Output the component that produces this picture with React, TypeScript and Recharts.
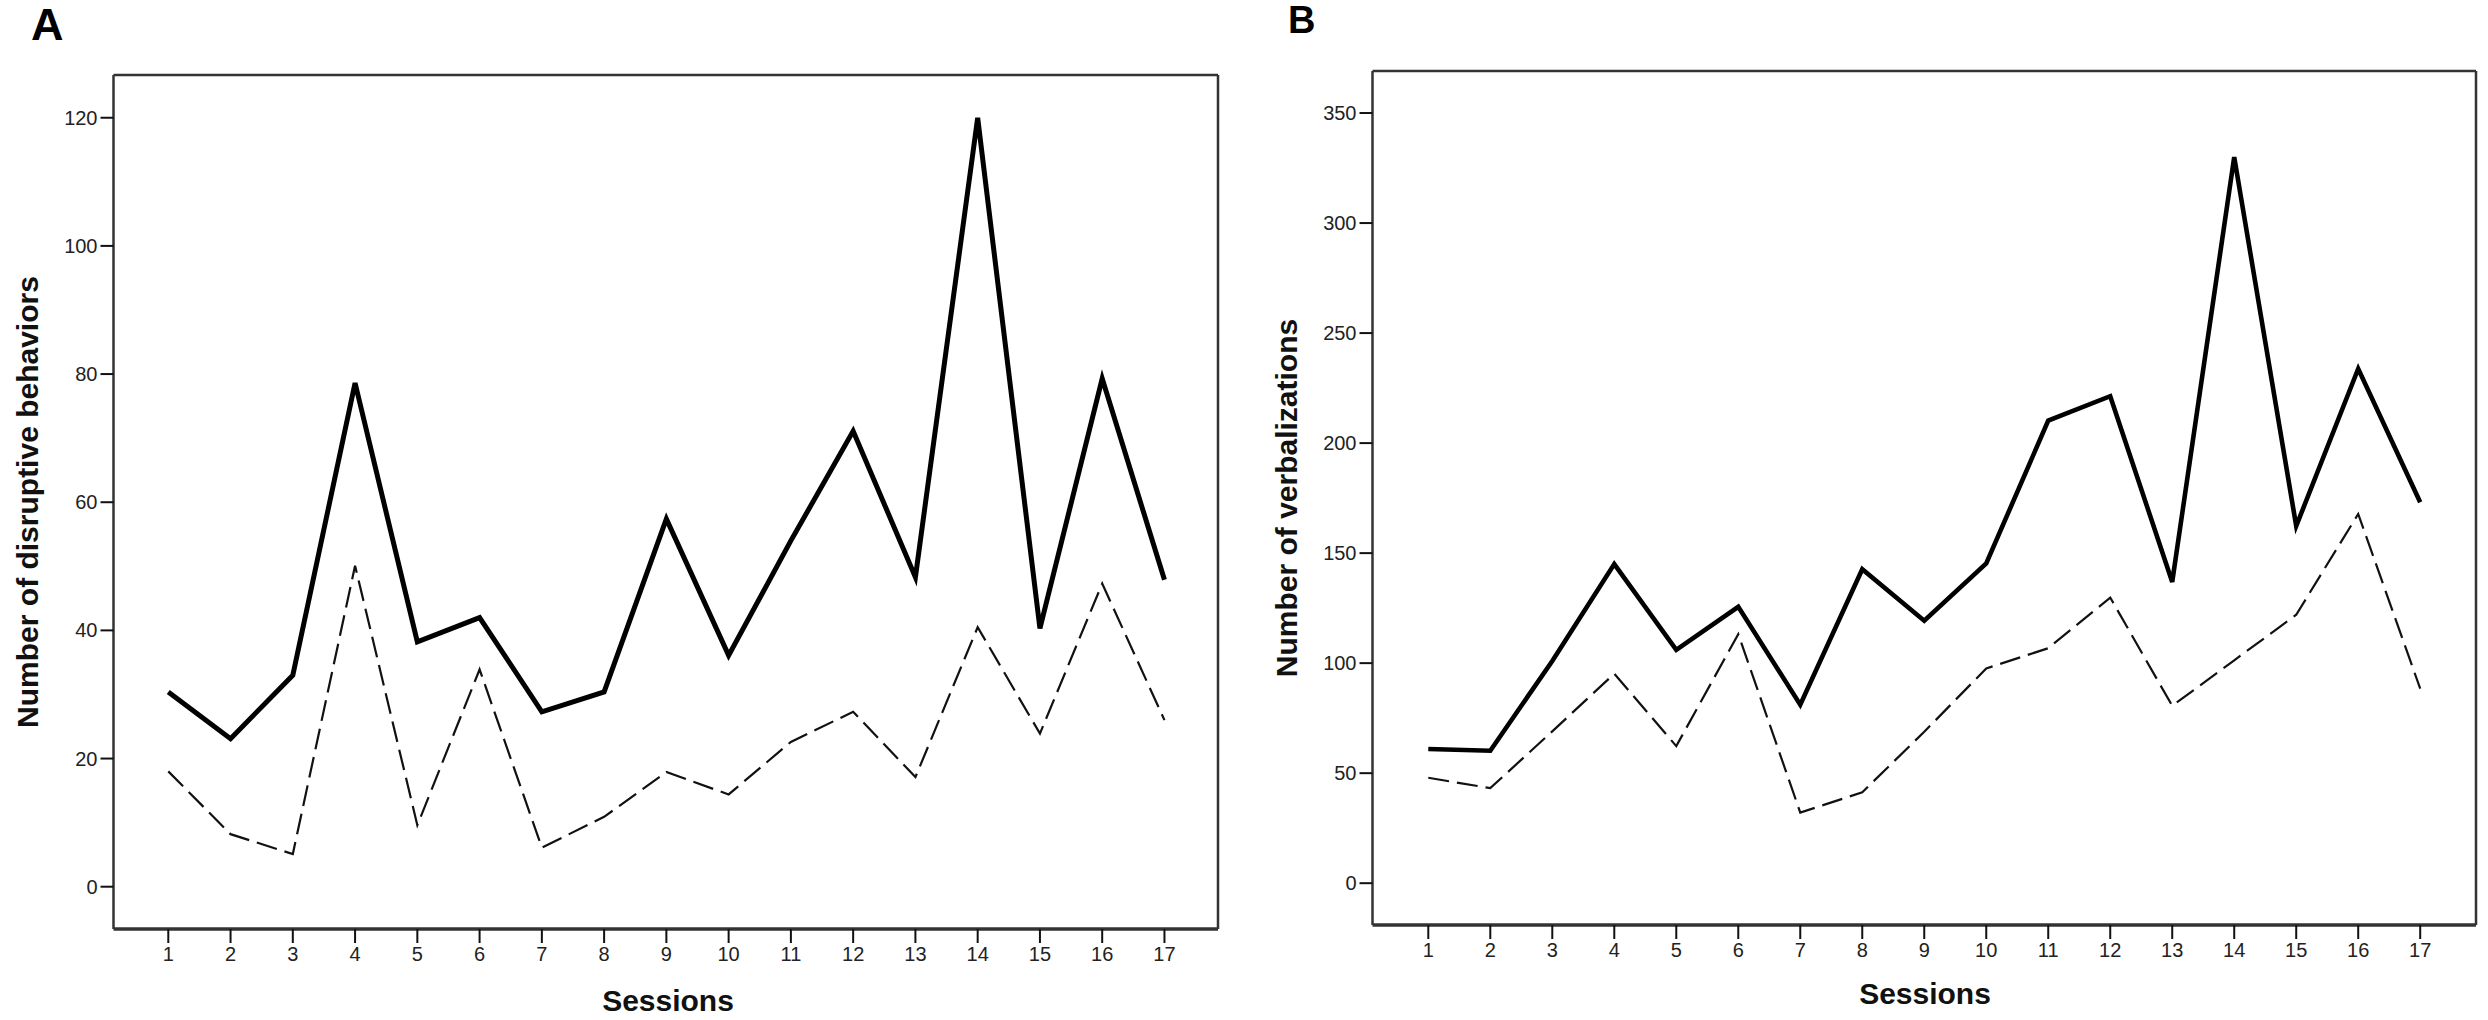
import { Line, LineChart, ReferenceLine, XAxis, YAxis } from 'recharts'

const sessions = [1, 2, 3, 4, 5, 6, 7, 8, 9, 10, 11, 12, 13, 14, 15, 16, 17]

// panel A: disruptive behaviors
const disruptiveSolid = [30.4, 23.1, 33.0, 78.6, 38.2, 42.0, 27.3, 30.4, 57.4, 36.1, 54.0, 71.1, 48.3, 120.0, 40.3, 79.3, 47.9]
const disruptiveDashed = [18.0, 8.2, 5.1, 50.1, 9.6, 33.9, 6.1, 10.9, 17.9, 14.4, 22.6, 27.3, 17.1, 40.5, 23.9, 47.3, 26.0]
const disruptiveTicks = [0, 20, 40, 60, 80, 100, 120]

// panel B: verbalizations
const verbalSolid = [61.0, 60.2, 101.0, 145.0, 106.0, 125.6, 81.1, 142.7, 119.3, 145.3, 210.2, 221.3, 136.9, 330.0, 162.3, 233.8, 173.1]
const verbalDashed = [47.9, 43.2, 69.0, 95.2, 62.3, 113.2, 32.1, 41.3, 68.8, 97.6, 106.8, 129.8, 80.6, 101.3, 122.0, 167.8, 88.4]
const verbalTicks = [0, 50, 100, 150, 200, 250, 300, 350]

const font = "'Liberation Sans', Arial, sans-serif"
const frame = '#333'

const dataA = sessions.map((s, i) => ({ session: s, solid: disruptiveSolid[i], dashed: disruptiveDashed[i] }))
const dataB = sessions.map((s, i) => ({ session: s, solid: verbalSolid[i], dashed: verbalDashed[i] }))

type PanelProps = {
  data: { session: number; solid: number; dashed: number }[]
  width: number
  margin: { top: number; right: number; bottom: number; left: number }
  yWidth: number
  xHeight: number
  xDomain: [number, number]
  yDomain: [number, number]
  yTicks: number[]
  letter: string
  letterX: number
  letterY: number
  letterSize: number
  yTitle: string
  yTitleX: number
  yTitleY: number
  xTitleX: number
  xTitleY: number
  solidWidth: number
}

function Panel(p: PanelProps) {
  const tick = { fill: '#222', fontSize: 20, fontFamily: font }
  return (
    <LineChart width={p.width} height={1020} data={p.data} margin={p.margin}>
      <XAxis
        dataKey='session'
        type='number'
        domain={p.xDomain}
        ticks={sessions}
        interval={0}
        height={p.xHeight}
        tick={tick}
        tickSize={14}
        tickMargin={4}
        tickLine={{ stroke: '#111', strokeWidth: 2 }}
        axisLine={{ stroke: frame, strokeWidth: 3.5 }}
        label={() => (
          <text x={p.xTitleX} y={p.xTitleY} textAnchor='middle' fontFamily={font} fontWeight='bold' fontSize={30} fill='#111'>
            Sessions
          </text>
        )}
      />
      <YAxis
        type='number'
        domain={p.yDomain}
        ticks={p.yTicks}
        interval={0}
        width={p.yWidth}
        tick={tick}
        tickSize={13}
        tickMargin={3}
        tickLine={{ stroke: '#111', strokeWidth: 2 }}
        axisLine={{ stroke: frame, strokeWidth: 2.5 }}
        label={() => (
          <g>
            <text x={p.letterX} y={p.letterY} fontFamily={font} fontWeight='bold' fontSize={p.letterSize} fill='#000'>
              {p.letter}
            </text>
            <text
              x={p.yTitleX}
              y={p.yTitleY}
              transform={`rotate(-90, ${p.yTitleX}, ${p.yTitleY})`}
              textAnchor='middle'
              fontFamily={font}
              fontWeight='bold'
              fontSize={30}
              fill='#111'
            >
              {p.yTitle}
            </text>
          </g>
        )}
      />
      {/* top and right edges of the box */}
      <ReferenceLine y={p.yDomain[1]} stroke={frame} strokeWidth={2.5} />
      <ReferenceLine x={p.xDomain[1]} stroke={frame} strokeWidth={2.5} />
      <Line
        dataKey='dashed'
        stroke='#111'
        strokeWidth={2.2}
        strokeDasharray='21 8'
        dot={false}
        activeDot={false}
        isAnimationActive={false}
      />
      <Line
        dataKey='solid'
        stroke='#000'
        strokeWidth={p.solidWidth}
        dot={false}
        activeDot={false}
        isAnimationActive={false}
      />
    </LineChart>
  )
}

export default function App() {
  return (
    <div style={{ position: 'absolute', left: 0, top: 0, width: 2488, height: 1020, background: '#fff' }}>
      <div style={{ position: 'absolute', left: 0, top: 0 }}>
        <Panel
          data={dataA}
          width={1260}
          margin={{ top: 75, right: 42, bottom: 0, left: 0 }}
          yWidth={113.5}
          xHeight={91}
          xDomain={[0.12, 17.86]}
          yDomain={[-6.6, 126.67]}
          yTicks={disruptiveTicks}
          letter='A'
          letterX={31}
          letterY={40}
          letterSize={45}
          yTitle='Number of disruptive behaviors'
          yTitleX={38}
          yTitleY={502}
          xTitleX={668}
          xTitleY={1011}
          solidWidth={5}
        />
      </div>
      <div style={{ position: 'absolute', left: 1260, top: 0 }}>
        <Panel
          data={dataB}
          width={1228}
          margin={{ top: 71, right: 12, bottom: 0, left: 0 }}
          yWidth={112.5}
          xHeight={95}
          xDomain={[0.1, 17.9]}
          yDomain={[-19.0, 369.1]}
          yTicks={verbalTicks}
          letter='B'
          letterX={28}
          letterY={33}
          letterSize={38}
          yTitle='Number of verbalizations'
          yTitleX={36.7}
          yTitleY={498}
          xTitleX={665}
          xTitleY={1004}
          solidWidth={4.6}
        />
      </div>
    </div>
  )
}
